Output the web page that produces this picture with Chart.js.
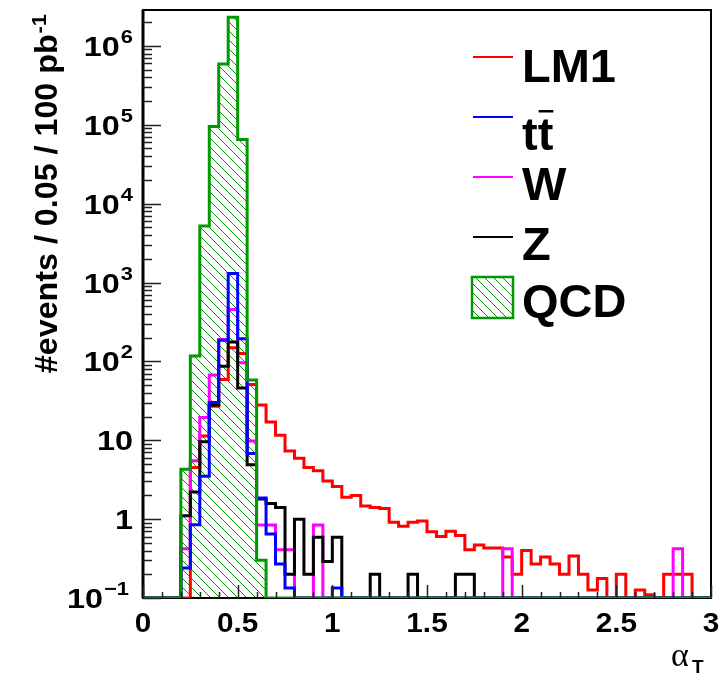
<!DOCTYPE html>
<html>
<head>
<meta charset="utf-8">
<script src="https://cdn.jsdelivr.net/npm/chart.js@4.4.0/dist/chart.umd.min.js"></script>
<style>
  html, body { margin: 0; padding: 0; background: #fff; }
  canvas { display: block; }
</style>
</head>
<body>
<canvas id="alphaT" width="724" height="675"></canvas>
<script>
// alpha_T, 60 bins of 0.05 between 0 and 3, #events per 100 pb^-1
var binWidth = 0.05;
var xMin = 0, xMax = 3;
var yMin = 0.1, yMax = 2.85e6;

var lm1 = [0, 0, 0, 0, 0, 4.5, 11.3, 27, 59, 149,
           126, 51, 28, 17, 11.6, 7.3, 5.9, 4.5, 4.1, 3.05,
           2.6, 1.9, 2.0, 1.47, 1.4, 1.36, 0.91, 0.81, 0.91, 0.95,
           0.69, 0.60, 0.70, 0.62, 0.41, 0.47, 0.43, 0.43, 0.33, 0.2,
           0.40, 0.27, 0.33, 0.27, 0.2, 0.34, 0.2, 0.126, 0.177, 0,
           0.2, 0, 0.126, 0.11, 0, 0.2, 0.2, 0.2, 0, 0];
var ttbar = [0, 0, 0, 0, 0.24, 0.85, 3.5, 30, 185, 1300,
             194, 6.8, 1.85, 0.65, 0.27, 0.134, 0, 0, 0, 0,
             0.134, 0, 0, 0, 0, 0, 0, 0, 0, 0,
             0, 0, 0, 0, 0, 0, 0, 0, 0, 0,
             0, 0, 0, 0, 0, 0, 0, 0, 0, 0,
             0, 0, 0, 0, 0, 0, 0, 0, 0, 0];
var wjets = [0, 0, 0, 0, 0.42, 5.5, 19.4, 67, 190, 455,
             96, 9.8, 0.84, 0.84, 0.41, 0.41, 0, 0, 0.84, 0,
             0, 0, 0, 0, 0, 0, 0, 0, 0, 0,
             0, 0, 0, 0, 0, 0, 0, 0, 0.42, 0,
             0, 0, 0, 0, 0, 0, 0, 0, 0, 0,
             0, 0, 0, 0, 0, 0, 0.42, 0, 0, 0];
var zjets = [0, 0, 0, 0, 1.1, 2.2, 9.6, 28, 87, 176,
             46, 4.9, 1.8, 1.58, 1.4, 0.2, 1.0, 0.2, 0.59, 0.29,
             0.59, 0, 0, 0, 0.2, 0, 0, 0, 0.2, 0,
             0, 0, 0, 0.2, 0.2, 0, 0, 0, 0, 0,
             0, 0, 0, 0, 0, 0, 0, 0, 0, 0,
             0, 0, 0, 0, 0, 0, 0, 0, 0, 0];
var qcd = [0, 0, 0, 0, 4.3, 117, 5200, 95000, 590000, 2300000,
           65000, 58, 0.30, 0, 0, 0, 0, 0, 0, 0,
           0, 0, 0, 0, 0, 0, 0, 0, 0, 0,
           0, 0, 0, 0, 0, 0, 0, 0, 0, 0,
           0, 0, 0, 0, 0, 0, 0, 0, 0, 0,
           0, 0, 0, 0, 0, 0, 0, 0, 0, 0];

var legendNames = ['LM1', 'tt', 'W', 'Z', 'QCD'];
var xTickValues = [0, 0.5, 1, 1.5, 2, 2.5, 3];
var xTickLabels = ['0', '0.5', '1', '1.5', '2', '2.5', '3'];
var yTickValues = [0.1, 1, 10, 100, 1e3, 1e4, 1e5, 1e6];
var yTickBases = ['10', '1', '10', '10', '10', '10', '10', '10'];
var yTickExps = ['\u22121', '', '', '2', '3', '4', '5', '6'];
var yTitle = '#events / 0.05 / 100 pb';
var yTitleExp = '-1';

var colLM1 = '#ff0000', colTT = '#0000ff', colW = '#ff00ff', colZ = '#000000', colQCD = '#009900';
var boldFont = '"Liberation Sans", Arial, sans-serif';

function histPoints(values) {
  var pts = [];
  for (var i = 0; i < values.length; i++) {
    pts.push({ x: i * binWidth, y: Math.max(values[i], yMin) });
  }
  pts.push({ x: values.length * binWidth, y: Math.max(values[values.length - 1], yMin) });
  return pts;
}

function makeHatch() {
  var s = 9;
  var c = document.createElement('canvas');
  c.width = s; c.height = s;
  var g = c.getContext('2d');
  g.strokeStyle = colQCD;
  g.lineWidth = 1;
  g.beginPath();
  g.moveTo(-1, -1); g.lineTo(s + 1, s + 1);
  g.moveTo(-1, s - 1); g.lineTo(1, s + 1);
  g.moveTo(s - 1, -1); g.lineTo(s + 1, 1);
  g.stroke();
  return g.createPattern(c, 'repeat');
}

// ROOT's helvetica is drawn a bit wider, so text gets a small horizontal stretch
function wideText(c, text, x, y, sx, align) {
  var w = c.measureText(text).width * sx;
  var left = align === 'right' ? x - w : (align === 'center' ? x - w / 2 : x);
  c.save();
  c.translate(left, y);
  c.scale(sx, 1);
  c.textAlign = 'left';
  c.fillText(text, 0, 0);
  c.restore();
  return w;
}

var canvas = document.getElementById('alphaT');
var ctx = canvas.getContext('2d');
var hatch = makeHatch();

function histSet(label, values, color) {
  return {
    label: label,
    data: histPoints(values),
    borderColor: color,
    borderWidth: 3,
    backgroundColor: 'rgba(0,0,0,0)',
    fill: false,
    stepped: true,
    pointRadius: 0,
    borderJoinStyle: 'miter',
    borderCapStyle: 'butt'
  };
}

var qcdSet = histSet('QCD', qcd, colQCD);
qcdSet.fill = 'start';
qcdSet.backgroundColor = hatch;

// frame under the histograms, inward ticks on top
var framePlugin = {
  id: 'frame',
  beforeDatasetsDraw: function(chart) {
    var a = chart.chartArea, c = chart.ctx;
    c.save();
    c.strokeStyle = '#000';
    c.lineWidth = 2;
    c.strokeRect(a.left, a.top, a.right - a.left, a.bottom - a.top);
    c.lineWidth = 3;
    c.beginPath();
    c.moveTo(a.left, a.top); c.lineTo(a.left, a.bottom);
    c.stroke();
    c.restore();
  },
  afterDatasetsDraw: function(chart) {
    var a = chart.chartArea, c = chart.ctx;
    var xs = chart.scales.x, ys = chart.scales.y;
    c.save();
    c.strokeStyle = '#222';
    c.lineWidth = 1.5;
    c.beginPath();
    ys.ticks.forEach(function(t) {
      var e = Math.floor(Math.log10(t.value) + 1e-9);
      var sig = t.value / Math.pow(10, e);
      if (Math.abs(sig - Math.round(sig)) > 1e-6) return;
      var y = Math.round(ys.getPixelForValue(t.value)) + 0.5;
      var len = Math.round(sig) === 1 ? 18 : 9;
      c.moveTo(a.left, y); c.lineTo(a.left + len, y);
    });
    xs.ticks.forEach(function(t) {
      var k = Math.round(t.value * 10);
      var x = Math.round(xs.getPixelForValue(t.value)) + 0.5;
      var len = k % 5 === 0 ? 13 : 6;
      c.moveTo(x, a.bottom); c.lineTo(x, a.bottom - len);
    });
    c.stroke();
    c.restore();
  }
};

var textPlugin = {
  id: 'rootText',
  afterDraw: function(chart) {
    var c = chart.ctx;
    var xs = chart.scales.x, ys = chart.scales.y;
    c.save();
    c.fillStyle = '#000';
    c.textBaseline = 'alphabetic';

    // x tick labels
    c.font = 'bold 27px ' + boldFont;
    xTickValues.forEach(function(v, i) {
      wideText(c, xTickLabels[i], xs.getPixelForValue(v), 632, 1.1, 'center');
    });

    // y tick labels with raised exponents
    yTickValues.forEach(function(v, i) {
      var y = ys.getPixelForValue(v);
      var right = v < 1 ? 129 : 133;
      if (yTickExps[i]) {
        c.font = 'bold 19px ' + boldFont;
        var ew = wideText(c, yTickExps[i], right, y - 3, 1.15, 'right');
        right -= ew + 1;
      }
      c.font = 'bold 27px ' + boldFont;
      wideText(c, yTickBases[i], right, y + 10, 1.2, 'right');
    });

    // y axis title, rotated, ending near the top of the frame
    c.save();
    c.font = 'bold 21px ' + boldFont;
    var supW = c.measureText(yTitleExp).width * 1.04;
    c.font = 'bold 31px ' + boldFont;
    var mainW = c.measureText(yTitle).width * 1.04;
    c.translate(57, 14 + supW + 1 + mainW);
    c.rotate(-Math.PI / 2);
    wideText(c, yTitle, 0, 0, 1.04, 'left');
    c.font = 'bold 21px ' + boldFont;
    wideText(c, yTitleExp, mainW + 1, -11, 1.04, 'left');
    c.restore();

    // x axis title alpha_T
    c.font = '34px "Liberation Serif", serif';
    c.textAlign = 'left';
    c.fillText('\u03B1', 671, 666);
    c.font = 'bold 19px ' + boldFont;
    c.fillText('T', 692, 673);

    // legend
    var colors = [colLM1, colTT, colW, colZ, colQCD];
    var lineY = [57, 117, 177, 237, 297];
    var baseY = [82, 150, 200, 260, 317];
    c.font = 'bold 47px ' + boldFont;
    for (var i = 0; i < legendNames.length; i++) {
      if (legendNames[i] === 'QCD') {
        c.fillStyle = hatch;
        c.fillRect(472, 277, 41, 41);
        c.strokeStyle = colQCD;
        c.lineWidth = 2.5;
        c.strokeRect(472, 277, 41, 41);
      } else {
        c.strokeStyle = colors[i];
        c.lineWidth = 2;
        c.beginPath();
        c.moveTo(473, lineY[i]); c.lineTo(513, lineY[i]);
        c.stroke();
      }
      c.fillStyle = '#000';
      c.fillText(legendNames[i], 522, baseY[i]);
      if (legendNames[i] === 'tt') {
        var w1 = c.measureText('t').width, w2 = c.measureText('tt').width;
        c.fillRect(522 + w1 + 1, baseY[i] - 40, w2 - w1 - 1, 2.5);
      }
    }
    c.restore();
  }
};

new Chart(ctx, {
  type: 'line',
  data: {
    datasets: [
      qcdSet,
      histSet('tt', ttbar, colTT),
      histSet('Z', zjets, colZ),
      histSet('W', wjets, colW),
      histSet('LM1', lm1, colLM1)
    ]
  },
  options: {
    responsive: false,
    animation: false,
    layout: { padding: { top: 10, right: 13, left: 0, bottom: 0 } },
    plugins: {
      legend: { display: false },
      tooltip: { enabled: false },
      filler: { drawTime: 'beforeDatasetsDraw' }
    },
    scales: {
      x: {
        type: 'linear',
        min: xMin,
        max: xMax,
        grid: { display: false, drawTicks: false },
        border: { display: false },
        ticks: { display: false, stepSize: 0.1, autoSkip: false },
        afterFit: function(s) { s.height = 77; }
      },
      y: {
        type: 'logarithmic',
        min: yMin,
        max: yMax,
        grid: { display: false, drawTicks: false },
        border: { display: false },
        ticks: { display: false, autoSkip: false },
        afterFit: function(s) { s.width = 143; }
      }
    }
  },
  plugins: [framePlugin, textPlugin]
});
</script>
</body>
</html>
